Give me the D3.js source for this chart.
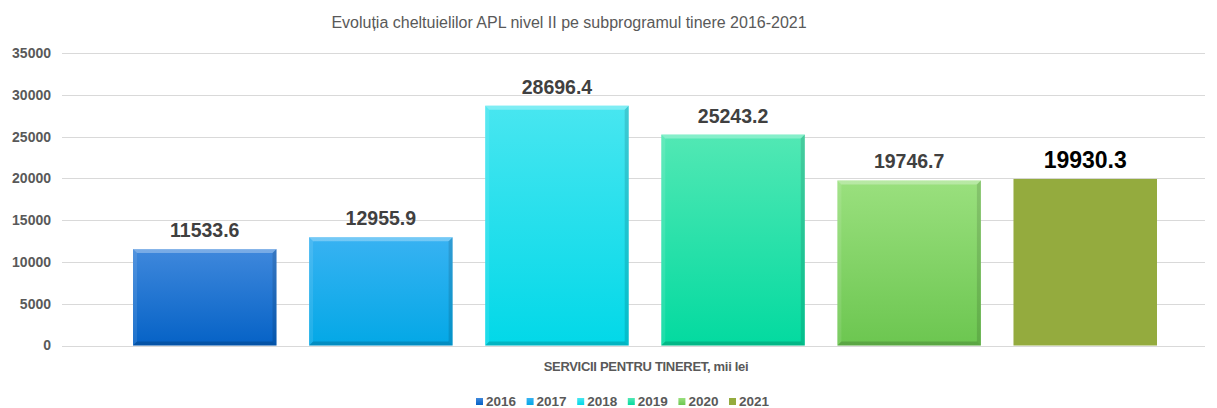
<!DOCTYPE html>
<head>
  <meta charset="utf-8">
  <title>chart</title>
</head>
<style>
body { margin: 0; background: #fff; }
text { font-family: "Liberation Sans", Arial, sans-serif; }
.tick text { fill: #595959; font-weight: bold; font-size: 14px; }
</style>
<svg width="1217" height="408"></svg>
<script src="https://d3js.org/d3.v7.min.js"></script>
<script>
var years = ["2016", "2017", "2018", "2019", "2020", "2021"];
var values = [11533.6, 12955.9, 28696.4, 25243.2, 19746.7, 19930.3];
var yTicks = [0, 5000, 10000, 15000, 20000, 25000, 30000, 35000];
// top / bottom colours of each bar gradient
var colTop = ["#3f88dc", "#38b2f2", "#48e6f0", "#52e8b4", "#9ae07e", "#94ab3e"];
var colBot = ["#0562c6", "#03a8e6", "#02d8e8", "#03daa0", "#6cc650", "#94ab3e"];

var svg = d3.select("svg"),
    plotLeft = 62, plotRight = 1205, plotTop = 53, plotBottom = 345.5;

var y = d3.scaleLinear().domain([0, 35000]).range([plotBottom, plotTop]);
var x = d3.scaleBand().domain(years).range([133, 1157]).paddingInner(0.185);

var defs = svg.append("defs");
years.forEach(function(yr, i) {
  var g = defs.append("linearGradient").attr("id", "g" + yr)
      .attr("x1", 0).attr("y1", 0).attr("x2", 0).attr("y2", 1);
  g.append("stop").attr("offset", "0%").attr("stop-color", colTop[i]);
  g.append("stop").attr("offset", "100%").attr("stop-color", colBot[i]);
});

svg.append("text")
  .attr("x", 569).attr("y", 28)
  .attr("text-anchor", "middle")
  .style("font-size", "16px").style("fill", "#595959")
  .text("Evoluția cheltuielilor APL nivel II pe subprogramul tinere 2016-2021");

// grid
svg.append("g").selectAll("line")
  .data(yTicks).enter().append("line")
    .attr("x1", plotLeft).attr("x2", plotRight)
    .attr("y1", function(d) { return Math.round(y(d)) + 0.5; })
    .attr("y2", function(d) { return Math.round(y(d)) + 0.5; })
    .attr("stroke", "#d9d9d9");

var yAxis = svg.append("g")
  .attr("transform", "translate(" + plotLeft + ",0)")
  .call(d3.axisLeft(y).tickValues(yTicks).tickFormat(d3.format("d")).tickSize(0).tickPadding(11));
yAxis.select(".domain").remove();

var bars = svg.append("g").selectAll("g")
  .data(years).enter().append("g");

bars.append("rect")
  .attr("x", function(d) { return x(d); })
  .attr("y", function(d, i) { return y(values[i]); })
  .attr("width", x.bandwidth())
  .attr("height", function(d, i) { return plotBottom - y(values[i]); })
  .attr("fill", function(d) { return "url(#g" + d + ")"; });

// bevel edges, not for 2021
var b = 4;
function bevel(d, i, side) {
  var x0 = x(d), x1 = x(d) + x.bandwidth(), y0 = y(values[i]), y1 = plotBottom;
  if (side == "top") return [[x0, y0], [x1, y0], [x1 - b, y0 + b], [x0 + b, y0 + b]];
  if (side == "bot") return [[x0, y1], [x1, y1], [x1 - b, y1 - b], [x0 + b, y1 - b]];
  if (side == "left") return [[x0, y0], [x0 + b, y0 + b], [x0 + b, y1 - b], [x0, y1]];
  return [[x1, y0], [x1 - b, y0 + b], [x1 - b, y1 - b], [x1, y1]];
}
var sides = [["top", "#fff", 0.3], ["left", "#fff", 0.1], ["right", "#000", 0.12], ["bot", "#000", 0.16]];
bars.filter(function(d, i) { return i < 5; }).each(function(d) {
  var i = years.indexOf(d), g = d3.select(this);
  sides.forEach(function(s) {
    g.append("polygon")
      .attr("points", bevel(d, i, s[0]).join(" "))
      .attr("fill", s[1]).attr("fill-opacity", s[2]);
  });
});

bars.append("text")
  .attr("x", function(d) { return x(d) + x.bandwidth() / 2; })
  .attr("y", function(d, i) { return y(values[i]) - (i == 5 ? 11 : 12); })
  .attr("text-anchor", "middle")
  .style("font-weight", "bold")
  .style("font-size", function(d, i) { return i == 5 ? "23px" : "19.5px"; })
  .style("fill", function(d, i) { return i == 5 ? "#000" : "#404040"; })
  .text(function(d, i) { return values[i].toFixed(1); });

svg.append("text")
  .attr("x", 646).attr("y", 371)
  .attr("text-anchor", "middle")
  .style("font-size", "13px").style("font-weight", "bold").style("fill", "#595959")
  .style("letter-spacing", "-0.3px")
  .text("SERVICII PENTRU TINERET, mii lei");

// legend
var lx = d3.scalePoint().domain(years).range([476, 729]);
var leg = svg.append("g").selectAll("g")
  .data(years).enter().append("g")
    .attr("transform", function(d) { return "translate(" + lx(d) + ",398)"; });
leg.append("rect")
  .attr("width", 7).attr("height", 7)
  .attr("fill", function(d) { return "url(#g" + d + ")"; });
leg.append("text")
  .attr("x", 10).attr("y", 8)
  .style("font-size", "13.5px").style("font-weight", "bold").style("fill", "#595959")
  .text(function(d) { return d; });
</script>
